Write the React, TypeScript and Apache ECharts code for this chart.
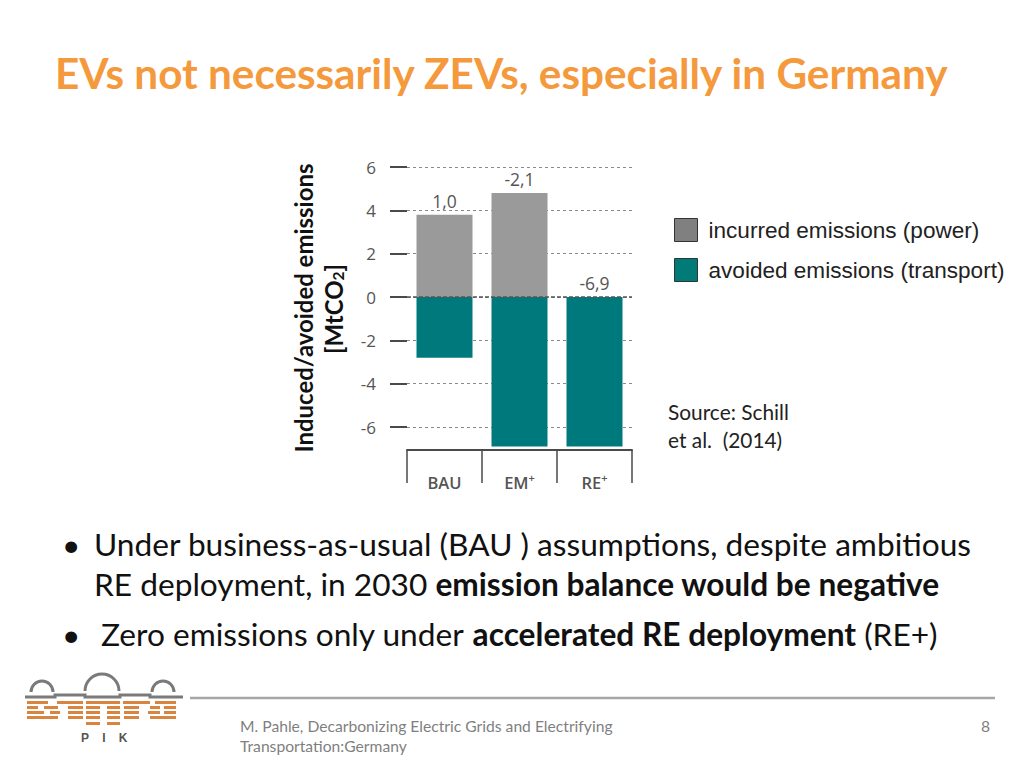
import React, { useEffect, useRef } from 'react';
import * as echarts from 'echarts';

// ---- data ----
const categories = ['BAU', 'EM+', 'RE+'];
const incurred = [3.8, 4.8, 0];
const avoided = [-2.8, -6.9, -6.9];
const netLabels = ['1,0', '-2,1', '-6,9'];
const seriesNames = ['incurred emissions (power)', 'avoided emissions (transport)'];
const yMin = -6;
const yMax = 6;
const yInterval = 2;
const yFloor = -7.06;

const titleText = 'EVs not necessarily ZEVs, especially in Germany';
const yTitle1 = 'Induced/avoided emissions';
const bullet1 = 'Under business-as-usual (BAU ) assumptions, despite ambitious';
const bullet2a = 'RE deployment, in 2030 ';
const bullet2b = 'emission balance would be negative';
const bullet3a = 'Zero emissions only under ';
const bullet3b = 'accelerated RE deployment';
const bullet3c = ' (RE+)';
const sourceLines = ['Source: Schill', 'et al.  (2014)'];
const footerLines = ['M. Pahle, Decarbonizing Electric Grids and Electrifying', 'Transportation:Germany'];
const pageNumber = '8';

const GRAY = '#9a9a9a';
const TEAL = '#00797c';
const LEG_GRAY = '#808080';
const LEG_TEAL = '#007b78';
const ORANGE = '#f5993d';

function fitSize(text: string, family: string, weight: string, target: number): number {
  const c = document.createElement('canvas').getContext('2d');
  if (!c) return 20;
  c.font = `${weight} 100px ${family}`;
  const w = c.measureText(text).width;
  return w > 0 ? (100 * target) / w : 20;
}

function logoElements(): any[] {
  const g = '#7a7a7a';
  const o = '#d9843f';
  const els: any[] = [];
  const arcs = [
    { cx: 42, cy: 692, r: 11 },
    { cx: 102, cy: 691, r: 17 },
    { cx: 163, cy: 692, r: 11 },
  ];
  arcs.forEach((a) =>
    els.push({
      type: 'arc',
      shape: { cx: a.cx, cy: a.cy, r: a.r, startAngle: Math.PI, endAngle: Math.PI * 2 },
      style: { stroke: g, lineWidth: 3, fill: null },
    })
  );
  els.push({
    type: 'polyline',
    shape: {
      points: [
        [25, 697], [55, 697], [55, 695], [85, 695], [85, 697], [120, 697],
        [120, 695], [150, 695], [150, 697], [183, 697],
      ],
    },
    style: { stroke: g, lineWidth: 3, fill: null },
  });
  const rows: [number, [number, number][]][] = [
    [701, [[27, 48], [57, 83], [86, 120], [123, 150], [155, 176]]],
    [706, [[27, 38], [44, 58], [68, 83], [86, 100], [107, 120], [124, 139], [150, 160], [164, 176]]],
    [711, [[27, 44], [50, 60], [68, 83], [86, 100], [107, 120], [124, 139], [148, 160], [164, 176]]],
    [716, [[27, 58], [68, 83], [86, 100], [107, 120], [124, 139], [150, 176]]],
    [722, [[86, 100], [107, 120]]],
  ];
  rows.forEach(([y, segs]) =>
    segs.forEach(([x1, x2]) =>
      els.push({ type: 'rect', shape: { x: x1, y: y, width: x2 - x1, height: 3 }, style: { fill: o } })
    )
  );
  ['P', 'I', 'K'].forEach((ch, i) =>
    els.push({
      type: 'text',
      x: 85 + i * 19,
      y: 738,
      style: {
        text: ch,
        fill: '#555',
        font: 'bold 12px "Liberation Sans"',
        align: 'center',
        textAlign: 'center',
        verticalAlign: 'middle',
        textVerticalAlign: 'middle',
      },
    })
  );
  return els;
}

export default function App() {
  const ref = useRef<HTMLDivElement>(null);

  useEffect(() => {
    if (!ref.current) return;
    const chart = echarts.init(ref.current, undefined, { renderer: 'svg' });

    const titleSize = fitSize(titleText, 'Lato', 'bold', 895);
    const bulletSize = fitSize(bullet1, 'Lato', 'normal', 878);
    const yTitleSize = fitSize(yTitle1, 'Lato', 'bold', 289);
    const sourceSize = fitSize(sourceLines[0], 'Lato', 'normal', 121);
    const footerSize = fitSize(footerLines[0], 'Lato', 'normal', 373);
    const legendSize = fitSize(seriesNames[0], '"Liberation Sans"', 'normal', 271);

    const txt = (x: number, y: number, text: string, size: number, color: string, weight = 'normal', align = 'left', family = 'Lato') => ({
      type: 'text',
      x,
      y,
      style: {
        text,
        fill: color,
        font: `${weight} ${size}px ${family}`,
        align,
        textAlign: align,
        verticalAlign: 'middle',
        textVerticalAlign: 'middle',
      },
    });

    const richText = (x: number, y: number, parts: [string, string][]) => ({
      type: 'text',
      x,
      y,
      style: {
        text: parts.map(([k, t]) => `{${k}|${t}}`).join(''),
        rich: {
          r: { fontFamily: 'Lato', fontSize: bulletSize, fontWeight: 'normal', fill: '#111', color: '#111' },
          b: { fontFamily: 'Lato', fontSize: bulletSize, fontWeight: 'bold', fill: '#111', color: '#111' },
        },
        verticalAlign: 'middle',
        textVerticalAlign: 'middle',
      },
    });

    const graphics: any[] = [
      txt(55, 72, titleText, titleSize, ORANGE, 'bold'),
      {
        type: 'text',
        x: 303,
        y: 308,
        rotation: Math.PI / 2,
        style: {
          text: yTitle1,
          fill: '#111',
          font: `bold ${yTitleSize}px Lato`,
          align: 'center',
          textAlign: 'center',
          verticalAlign: 'middle',
          textVerticalAlign: 'middle',
        },
      },
      {
        type: 'text',
        x: 333,
        y: 309,
        rotation: Math.PI / 2,
        style: {
          text: '{a|[MtCO}{s|2}{a|]}',
          rich: {
            a: { fontFamily: 'Lato', fontWeight: 'bold', fontSize: yTitleSize, fill: '#111', color: '#111' },
            s: { fontFamily: 'Lato', fontWeight: 'bold', fontSize: yTitleSize * 0.65, fill: '#111', color: '#111', padding: [10, 0, 0, 0] },
          },
          align: 'center',
          textAlign: 'center',
          verticalAlign: 'middle',
          textVerticalAlign: 'middle',
        },
      },
      txt(668, 411, sourceLines[0], sourceSize, '#222'),
      txt(668, 439, sourceLines[1], sourceSize, '#222'),
      txt(62, 544, '•', bulletSize, '#111'),
      richText(94, 544, [['r', bullet1]]),
      richText(94, 584, [['r', bullet2a], ['b', bullet2b]]),
      txt(62, 634, '•', bulletSize, '#111'),
      richText(101, 634, [['r', bullet3a], ['b', bullet3b], ['r', bullet3c]]),
      {
        type: 'line',
        shape: { x1: 190, y1: 698, x2: 995, y2: 698 },
        style: { stroke: '#a6a6a6', lineWidth: 2.5 },
      },
      txt(240, 726, footerLines[0], footerSize, '#7f7f7f'),
      txt(240, 746, footerLines[1], footerSize, '#7f7f7f'),
      txt(990, 726, pageNumber, footerSize, '#7f7f7f', 'normal', 'right'),
      ...logoElements(),
    ];

    const option: any = {
      animation: false,
      backgroundColor: '#ffffff',
      grid: [
        { left: 407, top: 167, width: 225, height: 283 },
        { left: 407, top: 167, width: 225, height: 260 },
      ],
      xAxis: [
        {
          type: 'category',
          gridIndex: 0,
          data: categories,
          position: 'bottom',
          axisLine: { show: true, onZero: false, lineStyle: { color: '#4a4a4a', width: 2 } },
          axisTick: { show: true, interval: 0, length: 33, alignWithLabel: false, lineStyle: { color: '#4a4a4a', width: 1.5 } },
          axisLabel: {
            interval: 0,
            margin: 18,
            formatter: (v: string) => v.replace('+', '{sup|+}').replace(/^([A-Z]+)/, '{m|$1}'),
            rich: {
              m: { fontFamily: '"Open Sans"', fontSize: 16.5, fontWeight: 600, color: '#555', lineHeight: 28 },
              sup: { fontFamily: '"Open Sans"', fontSize: 11, fontWeight: 600, color: '#555', padding: [0, 0, 9, 0] },
            },
          },
          splitLine: { show: false },
        },
        { type: 'category', gridIndex: 1, data: categories, show: false },
      ],
      yAxis: [
        { type: 'value', gridIndex: 0, min: yFloor, max: yMax, show: false, splitLine: { show: false } },
        {
          type: 'value',
          gridIndex: 1,
          min: yMin,
          max: yMax,
          interval: yInterval,
          axisLine: { show: false },
          axisTick: { show: true, length: 17, lineStyle: { color: '#4a4a4a', width: 2 } },
          axisLabel: { margin: 31, color: '#555', fontSize: 17, fontFamily: '"Open Sans"' },
          splitLine: { show: true, lineStyle: { type: [3, 3], color: '#8a8a8a', width: 1 } },
        },
      ],
      legend: {
        orient: 'vertical',
        left: 674,
        top: 218,
        padding: 0,
        itemWidth: 23,
        itemHeight: 23,
        itemGap: 16,
        icon: 'rect',
        data: [
          { name: seriesNames[0], itemStyle: { color: LEG_GRAY, borderColor: '#333', borderWidth: 1 } },
          { name: seriesNames[1], itemStyle: { color: LEG_TEAL, borderColor: '#333', borderWidth: 1 } },
        ],
        textStyle: { fontFamily: '"Liberation Sans"', fontSize: legendSize, color: '#222', padding: [0, 0, 0, 6] },
      },
      series: [
        {
          name: seriesNames[0],
          type: 'bar',
          xAxisIndex: 0,
          yAxisIndex: 0,
          stack: 'total',
          barWidth: 56,
          data: incurred,
          itemStyle: { color: GRAY },
          label: {
            show: true,
            position: 'top',
            distance: 5,
            formatter: (p: any) => netLabels[p.dataIndex],
            color: '#555',
            fontSize: 17.5,
            fontFamily: '"Open Sans"',
          },
          markLine: {
            silent: true,
            symbol: 'none',
            label: { show: false },
            lineStyle: { color: '#555', type: [4, 2], width: 1.5 },
            data: [{ yAxis: 0 }],
          },
        },
        {
          name: seriesNames[1],
          type: 'bar',
          xAxisIndex: 0,
          yAxisIndex: 0,
          stack: 'total',
          barWidth: 56,
          data: avoided,
          itemStyle: { color: TEAL },
        },
      ],
      graphic: graphics,
    };

    chart.setOption(option);
    return () => chart.dispose();
  }, []);

  return (
    <div
      ref={ref}
      style={{ position: 'fixed', left: 0, top: 0, width: 1024, height: 768, background: '#fff' }}
    />
  );
}
